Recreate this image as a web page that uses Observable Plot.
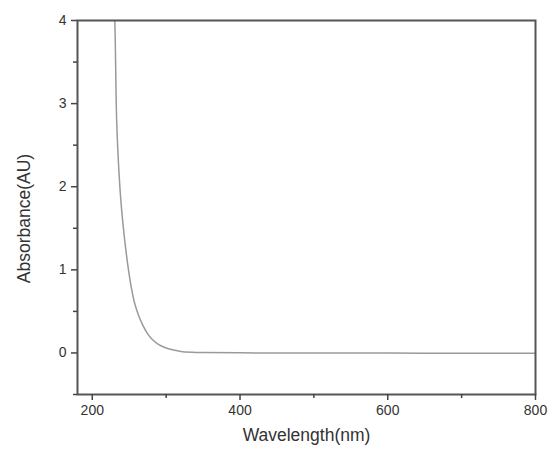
<!DOCTYPE html>
<html>
<head>
<meta charset="utf-8">
<script src="https://cdn.jsdelivr.net/npm/d3@7"></script>
<script src="https://cdn.jsdelivr.net/npm/@observablehq/plot@0.6"></script>
<style>
  body { margin: 0; background: #fff; }
  #chart { width: 555px; height: 450px; }
</style>
</head>
<body>
<div id="chart"></div>
<script>
const wavelength = [228, 230.5, 233, 236, 239, 243, 246, 249, 253, 257, 262, 268, 275, 282, 290, 300, 310, 320, 335, 350, 400, 500, 600, 700, 800];
const absorbance = [4.5, 4.0, 2.8, 2.2, 1.8, 1.43, 1.2, 1.0, 0.78, 0.61, 0.47, 0.34, 0.23, 0.155, 0.1, 0.06, 0.035, 0.018, 0.008, 0.004, 0.001, 0.0, -0.002, -0.003, -0.005];
const xMajor = [200, 400, 600, 800];
const xMinor = [300, 500, 700];
const yMajor = [0, 1, 2, 3, 4];
const yMinor = [-0.5, 0.5, 1.5, 2.5, 3.5];

const data = wavelength.map((w, i) => ({w, a: absorbance[i]}));
const font = "'Liberation Sans', Arial, sans-serif";

const chart = Plot.plot({
  width: 555,
  height: 450,
  marginLeft: 77,
  marginTop: 20,
  marginRight: 20,
  marginBottom: 56,
  style: {fontFamily: font, fontSize: "14px", color: "#333", background: "#fff"},
  x: {domain: [180, 800]},
  y: {domain: [-0.5, 4]},
  marks: [
    Plot.line(data, {x: "w", y: "a", stroke: "#9a9a9a", strokeWidth: 1.5, curve: "catmull-rom", clip: true}),
    Plot.frame({stroke: "#555", strokeWidth: 2}),
    Plot.axisX({ticks: xMajor, tickSize: 6, tickPadding: 5, tickFormat: d => String(d), stroke: "#444", strokeOpacity: 1, strokeWidth: 1.5, fontSize: 14, fill: "#333", label: null}),
    Plot.axisX({ticks: xMinor, tickSize: 4, tickFormat: () => "", stroke: "#444", strokeOpacity: 1, strokeWidth: 1.5, label: null}),
    Plot.axisY({ticks: yMajor, tickSize: 6, tickPadding: 5, tickFormat: d => String(d), stroke: "#444", strokeOpacity: 1, strokeWidth: 1.5, fontSize: 14, fill: "#333", label: null}),
    Plot.axisY({ticks: yMinor, tickSize: 4, tickFormat: () => "", stroke: "#444", strokeOpacity: 1, strokeWidth: 1.5, label: null}),
    Plot.text(["Wavelength(nm)"], {frameAnchor: "bottom", dy: 46, fontSize: 17.5, fill: "#333"}),
    Plot.text(["Absorbance(AU)"], {frameAnchor: "left", textAnchor: "middle", dx: -53, dy: 11, rotate: -90, fontSize: 17.5, fill: "#333"})
  ]
});
document.getElementById("chart").appendChild(chart);
</script>
</body>
</html>
